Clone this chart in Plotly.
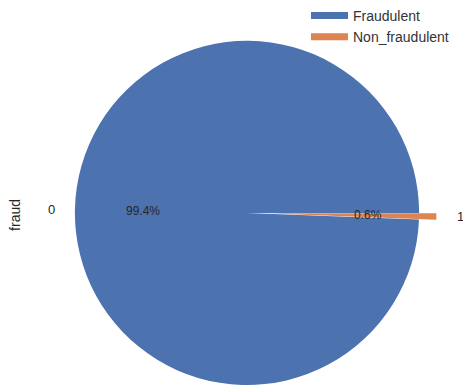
import math
import plotly.graph_objects as go

# Class counts as shares of all transactions
classes = ["0", "1"]
legend_names = ["Fraudulent", "Non_fraudulent"]
shares = [99.4, 0.6]
explode = [0.0, 0.1]
colors = ["#4c72b0", "#dd8452"]

W, H = 463, 387
CX, CY, R = 247, 212, 173          # pie centre (px from top-left) and radius
PCT_DIST, LABEL_DIST = 0.6, 1.1
TEXT = "#262626"
FONT = "Liberation Sans, Arial, sans-serif"


def to_paper(x, y):
    return x / W, 1 - y / H


total = sum(shares)
angles = []
start = 0.0
for v in shares:
    sweep = 360.0 * v / total
    angles.append((start, start + sweep))
    start += sweep

# first wedge starts at 3 o'clock and runs counter-clockwise
rotation = 90 - angles[0][1]

fig = go.Figure()
annotations = []

for i, (a0, a1) in enumerate(angles):
    mid = math.radians((a0 + a1) / 2)
    ux, uy = math.cos(mid), -math.sin(mid)      # screen direction (y down)
    cx = CX + explode[i] * R * ux
    cy = CY + explode[i] * R * uy
    x0, y1 = to_paper(cx - R, cy - R)
    x1, y0 = to_paper(cx + R, cy + R)
    slice_colors = [c if j == i else "rgba(0,0,0,0)" for j, c in enumerate(colors)]
    fig.add_trace(go.Pie(
        labels=legend_names,
        values=shares,
        sort=False,
        direction="counterclockwise",
        rotation=rotation,
        marker=dict(colors=slice_colors, line=dict(width=0)),
        textinfo="none",
        hoverinfo="label+percent",
        showlegend=False,
        domain=dict(x=[x0, x1], y=[y0, y1]),
    ))

    px, py = to_paper(cx + PCT_DIST * R * ux, cy + PCT_DIST * R * uy)
    annotations.append(dict(
        x=px, y=py, xref="paper", yref="paper", showarrow=False,
        text=f"{shares[i]:.1f}%", font=dict(size=12, color=TEXT, family=FONT),
        xanchor="center", yanchor="middle",
    ))
    lx, ly = to_paper(cx + LABEL_DIST * R * ux, cy + LABEL_DIST * R * uy)
    annotations.append(dict(
        x=lx, y=ly, xref="paper", yref="paper", showarrow=False,
        text=classes[i], font=dict(size=13, color=TEXT, family=FONT),
        xanchor="left" if ux > 0 else "right", yanchor="middle",
    ))

# axis label of the pie
fx, fy = to_paper(15, CY + 2)
annotations.append(dict(
    x=fx, y=fy, xref="paper", yref="paper", showarrow=False,
    text="fraud", textangle=-90, font=dict(size=14, color=TEXT, family=FONT),
    xanchor="center", yanchor="middle",
))

# legend entries drawn as wide colour patches
for name, c in zip(legend_names, colors):
    fig.add_trace(go.Scatter(
        x=[None], y=[None], mode="lines", name=name,
        line=dict(color=c, width=7), showlegend=True, hoverinfo="skip",
    ))

fig.update_layout(
    width=W, height=H,
    margin=dict(l=0, r=0, t=0, b=0, pad=0),
    paper_bgcolor="white", plot_bgcolor="white",
    xaxis=dict(visible=False), yaxis=dict(visible=False),
    annotations=annotations,
    showlegend=True,
    legend=dict(
        x=306 / W, y=1 + 2 / H, xanchor="left", yanchor="top",
        font=dict(size=14, color="#333333", family=FONT),
        bgcolor="rgba(0,0,0,0)", itemwidth=37,
    ),
)

fig.write_html("out.html")
